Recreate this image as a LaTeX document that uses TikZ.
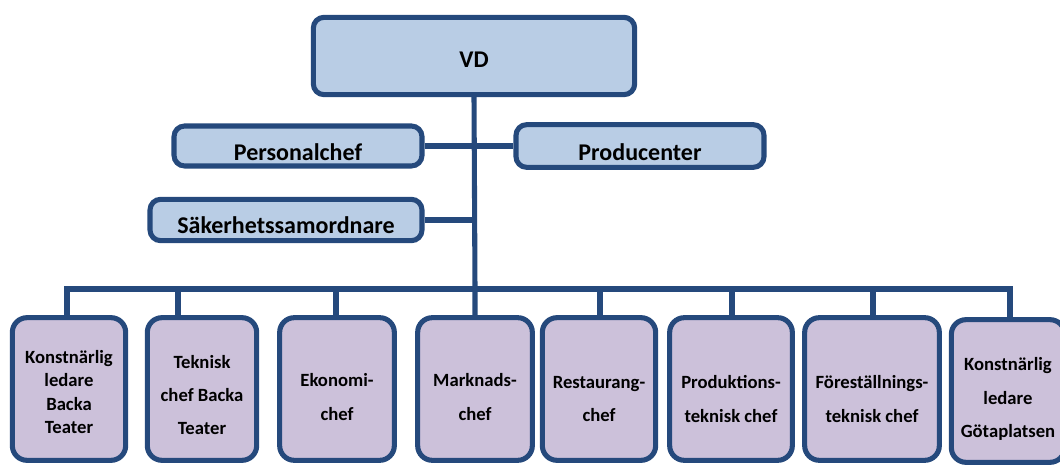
\documentclass[tikz,border=0pt]{standalone}
\usepackage{fontspec}
\setmainfont{Carlito}
\definecolor{boxblue}{HTML}{B9CDE5}
\definecolor{boxlilac}{HTML}{CCC1DA}
\definecolor{lineblue}{HTML}{25497C}
\tikzset{
  topbox/.style={draw=lineblue, line width=3.8pt, fill=boxblue, rounded corners=8pt},
  toptext/.style={font=\fontsize{18}{21}\selectfont\bfseries},
  chefbox/.style={draw=lineblue, line width=3.8pt, fill=boxlilac, rounded corners=11pt,
    minimum height=107pt},
  cheftext/.style={align=center, font=\fontsize{14}{25}\selectfont\bfseries},
  link/.style={draw=lineblue, line width=3.8pt}
}
\begin{document}
\begin{tikzpicture}[x=0.75pt,y=-0.75pt]
\useasboundingbox (0,0) rectangle (1060,466);

\node[topbox, minimum width=241pt, minimum height=58pt] (vd) at (474,56) {};
\node[topbox, minimum width=186pt, minimum height=30pt] (pers) at (298,146) {};
\node[topbox, minimum width=186pt, minimum height=32pt] (prod) at (640,146) {};
\node[topbox, minimum width=204pt, minimum height=31pt] (sak) at (286,220) {};
\node[toptext] (vdt) at (474,60) {VD};
\node[toptext] (perst) at (298,152) {Personalchef};
\node[toptext] (prodt) at (640,152) {Producenter};
\node[toptext] (sakt) at (286,225) {Säkerhetssamordnare};

\node[chefbox, minimum width=85pt] (b1) at (69,389) {};
\node[chefbox, minimum width=82pt] (b2) at (202,389) {};
\node[chefbox, minimum width=86pt] (b3) at (337,389) {};
\node[chefbox, minimum width=86pt] (b4) at (475,389) {};
\node[chefbox, minimum width=85pt] (b5) at (599,389) {};
\node[chefbox, minimum width=92pt] (b6) at (731,389) {};
\node[chefbox, minimum width=101pt] (b7) at (872,389) {};
\node[chefbox, minimum width=85pt] (b8) at (1008,391) {};

\node[cheftext, font=\fontsize{14}{17.6}\selectfont\bfseries] (t1) at (69,392)
  {Konstnärlig\\ledare\\Backa\\Teater};
\node[cheftext] (t2) at (202,395) {Teknisk\\chef Backa\\Teater};
\node[cheftext] (t3) at (337,397) {Ekonomi-\\chef};
\node[cheftext] (t4) at (475,397) {Marknads-\\chef};
\node[cheftext] (t5) at (599,399) {Restaurang-\\chef};
\node[cheftext] (t6) at (731,399) {Produktions-\\teknisk chef};
\node[cheftext] (t7) at (872,399) {Föreställnings-\\teknisk chef};
\node[cheftext] (t8) at (1008,399) {Konstnärlig\\ledare\\Götaplatsen};

\coordinate (bus) at (475,289);
\coordinate (d1) at (67,289);
\coordinate (d2) at (178,289);
\coordinate (d3) at (336,289);
\coordinate (d5) at (600,289);
\coordinate (d6) at (732,289);
\coordinate (d7) at (873,289);
\coordinate (d8) at (1010,289);

% trunk and staff
\draw[link] (vd.south) -- (bus) -- (b4.north);
\draw[link] (pers.east) -- (pers.east -| vd.south);
\draw[link] (prod.west) -- (prod.west -| vd.south);
\draw[link] (sak.east) -- (sak.east -| vd.south);

% bus to the chefs
\draw[link] (d1 |- b1.north) -- (d1) -- (d8) -- (d8 |- b8.north);
\foreach \i in {2,3,5,6,7}
  \draw[link] (d\i) -- (d\i |- b\i.north);
\end{tikzpicture}
\end{document}
